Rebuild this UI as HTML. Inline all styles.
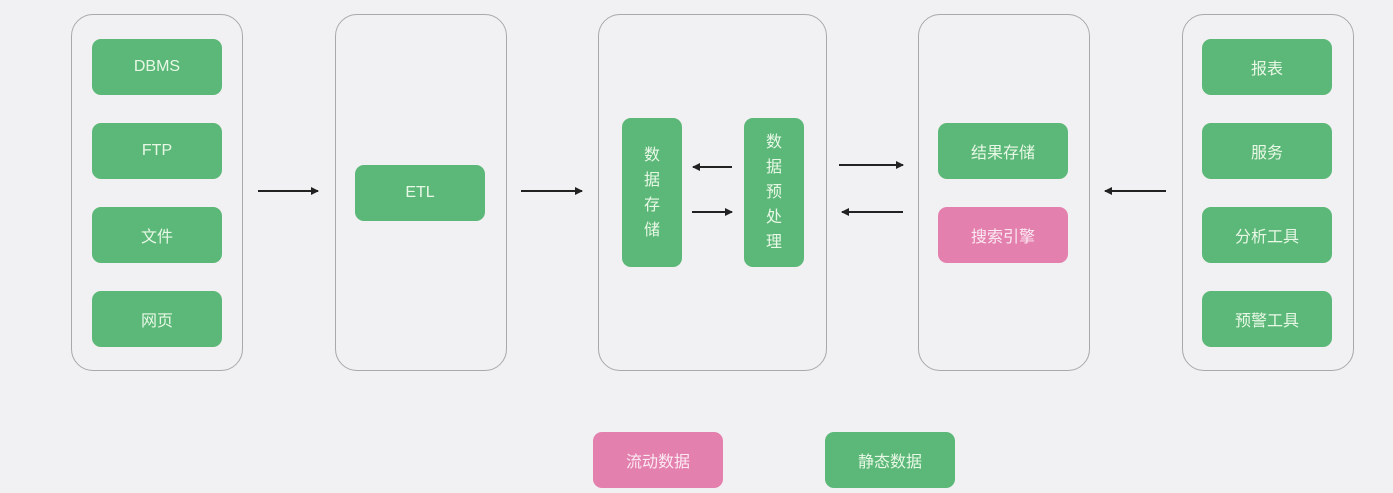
<!DOCTYPE html>
<html><head><meta charset="utf-8"><style>
body{margin:0;width:1393px;height:493px;background:#f1f0f2;position:relative;overflow:hidden;font-family:"Liberation Sans","Noto Sans CJK SC",sans-serif}
.p{position:absolute;top:14px;height:357px;border:1.5px solid #a9a9ab;border-radius:22px;box-sizing:border-box}
.b{position:absolute;width:130px;height:56px;background:#5cb878;border-radius:9px;color:#e8f8e6;font-size:16px;display:flex;align-items:center;justify-content:center}
.pk{background:#e480ae;color:#fbe9f2}
.v{width:60px;height:149px;top:118px;flex-direction:column;font-size:16px;line-height:25px}
svg{position:absolute;left:0;top:0}
</style></head><body>
<div class="p" style="left:71px;width:172px"></div>
<div class="p" style="left:335px;width:172px"></div>
<div class="p" style="left:598px;width:229px"></div>
<div class="p" style="left:918px;width:172px"></div>
<div class="p" style="left:1182px;width:172px"></div>
<div class="b" style="left:92px;top:39px">DBMS</div>
<div class="b" style="left:92px;top:123px">FTP</div>
<div class="b" style="left:92px;top:207px">文件</div>
<div class="b" style="left:92px;top:291px">网页</div>
<div class="b" style="left:355px;top:165px">ETL</div>
<div class="b v" style="left:622px"><span>数</span><span>据</span><span>存</span><span>储</span></div>
<div class="b v" style="left:744px"><span>数</span><span>据</span><span>预</span><span>处</span><span>理</span></div>
<div class="b" style="left:938px;top:123px">结果存储</div>
<div class="b pk" style="left:938px;top:207px">搜索引擎</div>
<div class="b" style="left:1202px;top:39px">报表</div>
<div class="b" style="left:1202px;top:123px">服务</div>
<div class="b" style="left:1202px;top:207px">分析工具</div>
<div class="b" style="left:1202px;top:291px">预警工具</div>
<div class="b pk" style="left:593px;top:432px">流动数据</div>
<div class="b" style="left:825px;top:432px">静态数据</div>
<svg width="1393" height="493">
<defs><marker id="a" markerWidth="8" markerHeight="8" refX="7" refY="4" orient="auto" markerUnits="userSpaceOnUse"><path d="M0,0 L8,4 L0,8 z" fill="#222"/></marker></defs>
<g stroke="#222" stroke-width="2" marker-end="url(#a)">
<line x1="258" y1="191" x2="318" y2="191"/>
<line x1="521" y1="191" x2="582" y2="191"/>
<line x1="732" y1="167" x2="693" y2="167"/>
<line x1="692" y1="212" x2="732" y2="212"/>
<line x1="839" y1="165" x2="903" y2="165"/>
<line x1="903" y1="212" x2="842" y2="212"/>
<line x1="1166" y1="191" x2="1105" y2="191"/>
</g></svg>
</body></html>
